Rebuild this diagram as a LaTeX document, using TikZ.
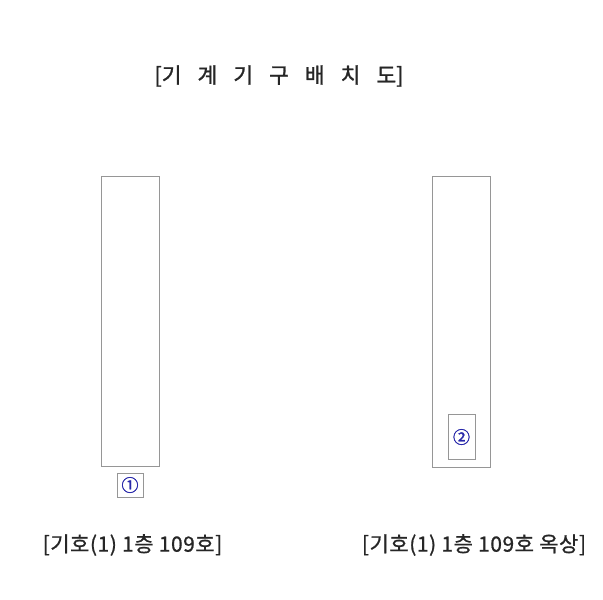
\documentclass[tikz,border=0pt]{standalone}
\usepackage{fontspec}
\setmainfont{Noto Sans CJK KR}
\newfontfamily\krtitle[FakeBold=1.2]{Noto Sans CJK KR}
\newfontfamily\krlab[FakeBold=0.8, LetterSpace=2.5]{Noto Sans CJK KR}
\newfontfamily\krcirc[FakeBold=1.5]{Noto Sans CJK KR}
\definecolor{boxgray}{RGB}{150,150,150}
\definecolor{numblue}{RGB}{40,40,170}
\tikzset{
  tallbox/.style={draw=boxgray, line width=0.8pt},
  markbox/.style={draw=boxgray, line width=0.7pt, inner sep=0pt},
  marktext/.style={text=numblue, font=\krcirc\fontsize{17}{17}\selectfont},
  label/.style={font=\krlab\fontsize{21}{21}\selectfont, text=black!85},
  titletext/.style={font=\krtitle\fontsize{21.5}{21.5}\selectfont, text=black!85}
}
\begin{document}
\begin{tikzpicture}[x=1pt,y=-1pt]
\useasboundingbox[fill=white] (0,0) rectangle (603,600);
\node[titletext, anchor=center] (title) at (279,76) {[기\hspace{16pt}계\hspace{16pt}기\hspace{16pt}구\hspace{16pt}배\hspace{16pt}치\hspace{16pt}도]};
\draw[tallbox] (101,176) rectangle (159,466);
\node (roomA) at (130,321) {};
\draw[tallbox] (432,176) rectangle (490,467);
\node (roomB) at (461,321) {};
\draw[markbox] (117,473) rectangle (143,497);
\node[marktext] (m1) at (130,485) {①};
\draw[markbox] (448,414) rectangle (475,459);
\node[marktext] (m2) at (461.5,437) {②};
\node[label] (lab1) at (132.5,545) {[기호(1) 1층 109호]};
\node[label] (lab2) at (474,545) {[기호(1) 1층 109호 옥상]};
\end{tikzpicture}
\end{document}
